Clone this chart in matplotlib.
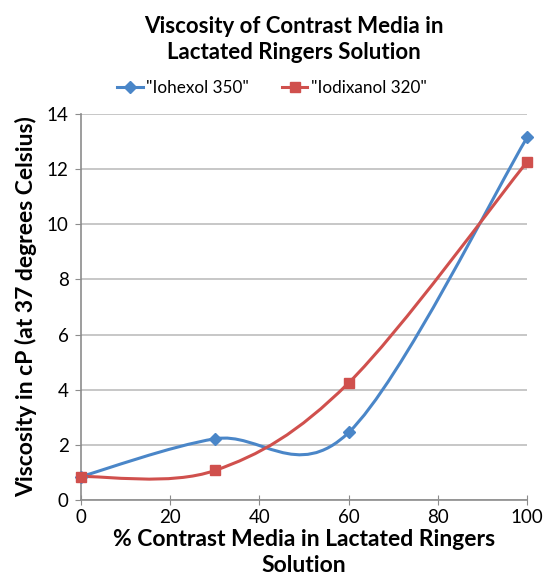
import numpy as np
import matplotlib
matplotlib.use("Agg")
import matplotlib.pyplot as plt
from matplotlib.path import Path
from matplotlib.patches import PathPatch
from matplotlib.lines import Line2D

plt.rcParams['font.family'] = ['Lato', 'DejaVu Sans']

x_vals = [0, 30, 60, 100]
iohexol = [0.85, 2.22, 2.45, 13.15]
iodixanol = [0.85, 1.07, 4.25, 12.27]
series_names = ['"Iohexol 350"', '"Iodixanol 320"']
colors = ['#4A86C8', '#D0504D']
markers = ['D', 's']

title = "Viscosity of Contrast Media in\nLactated Ringers Solution"
xlabel = "% Contrast Media in Lactated Ringers\nSolution"
ylabel = "Viscosity in cP (at 37 degrees Celsius)"
xticks = [0, 20, 40, 60, 80, 100]
yticks = [0, 2, 4, 6, 8, 10, 12, 14]


def smooth_path(xs, ys):
    # Excel-like smoothed line: cubic Bezier (Catmull-Rom, tension 1/6)
    pts = np.column_stack([xs, ys]).astype(float)
    n = len(pts)
    verts = [pts[0]]
    codes = [Path.MOVETO]
    for i in range(n - 1):
        p0 = pts[i - 1] if i > 0 else pts[i]
        p1 = pts[i]
        p2 = pts[i + 1]
        p3 = pts[i + 2] if i + 2 < n else pts[i + 1]
        c1 = p1 + (p2 - p0) / 6.0
        c2 = p2 - (p3 - p1) / 6.0
        verts += [c1, c2, p2]
        codes += [Path.CURVE4] * 3
    return Path(verts, codes)


fig = plt.figure(figsize=(5.44, 5.83), dpi=100)
ax = fig.add_axes([0.149, 0.1424, 0.82, 0.662])

for ys, c, m, ms in zip([iohexol, iodixanol], colors, markers, [6.5, 7.5]):
    patch = PathPatch(smooth_path(x_vals, ys), facecolor='none', edgecolor=c,
                      lw=2.2, zorder=3, capstyle='round')
    ax.add_patch(patch)
    ax.plot(x_vals, ys, linestyle='none', marker=m, color=c, ms=ms,
            zorder=4, clip_on=False)

ax.set_xlim(0, 100)
ax.set_ylim(0, 14)
ax.set_xticks(xticks)
ax.set_yticks(yticks)
ax.grid(axis='y', color='#BEBEBE', lw=1.2)
ax.set_axisbelow(True)
for s in ['top', 'right']:
    ax.spines[s].set_visible(False)
for s in ['left', 'bottom']:
    ax.spines[s].set_color('#8C8C8C')
    ax.spines[s].set_linewidth(1.2)
ax.tick_params(axis='x', direction='inout', length=7, color='#8C8C8C',
               labelsize=13.5, pad=3)
ax.tick_params(axis='y', direction='out', length=4, color='#8C8C8C',
               labelsize=13.5, pad=5)

ax.set_xlabel(xlabel, fontsize=16.5, fontweight='bold', labelpad=2,
              linespacing=1.3)
ax.set_ylabel(ylabel, fontsize=16.5, fontweight='bold', labelpad=7)

fig.text(0.54, 0.972, title, ha='center', va='top', fontsize=16,
         fontweight='bold', linespacing=1.3)

handles = [Line2D([0], [0], color=c, lw=2.2, marker=m, ms=ms)
           for c, m, ms in zip(colors, markers, [6, 7])]
fig.legend(handles, series_names, loc='center', bbox_to_anchor=(0.5, 0.849),
           ncol=2, frameon=False, fontsize=12.3, handlelength=1.5,
           handletextpad=0.2, columnspacing=1.9)

fig.savefig("out.png", dpi=100)
